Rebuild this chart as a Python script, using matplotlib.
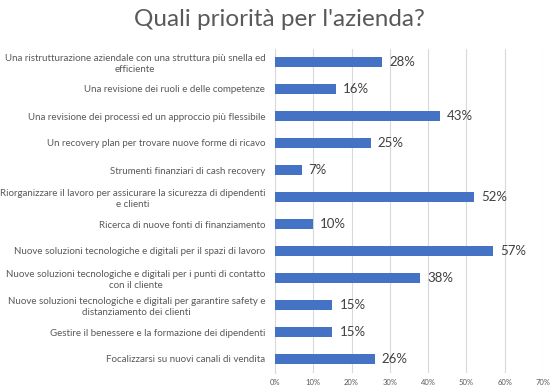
import matplotlib
matplotlib.use("Agg")
import matplotlib.pyplot as plt

categories = [
    "Una ristrutturazione aziendale con una struttura più snella ed\nefficiente",
    "Una revisione dei ruoli e delle competenze",
    "Una revisione dei processi ed un approccio più flessibile",
    "Un recovery plan per trovare nuove forme di ricavo",
    "Strumenti finanziari di cash recovery",
    "Riorganizzare il lavoro per assicurare la sicurezza di dipendenti\ne clienti",
    "Ricerca di nuove fonti di finanziamento",
    "Nuove soluzioni tecnologiche e digitali per il spazi di lavoro",
    "Nuove soluzioni tecnologiche e digitali per i punti di contatto\ncon il cliente",
    "Nuove soluzioni tecnologiche e digitali per garantire safety e\ndistanziamento dei clienti",
    "Gestire il benessere e la formazione dei dipendenti",
    "Focalizzarsi su nuovi canali di vendita",
]
values = [0.28, 0.16, 0.43, 0.25, 0.07, 0.52, 0.10, 0.57, 0.38, 0.15, 0.15, 0.26]
xticks = [0, 0.1, 0.2, 0.3, 0.4, 0.5, 0.6, 0.7]
xticklabels = ["0%", "10%", "20%", "30%", "40%", "50%", "60%", "70%"]
title = "Quali priorità per l'azienda?"

plt.rcParams['font.family'] = ['Lato', 'DejaVu Sans']

fig = plt.figure(figsize=(5.58, 3.91), dpi=100)
ax = fig.add_axes([275/558, 1 - 372.5/391, (543 - 275)/558, (372.5 - 48.5)/391])

y = list(range(len(categories)))
ax.barh(y, values, height=0.37, color="#4472C4", zorder=3)
ax.set_ylim(len(categories) - 0.5, -0.5)
ax.set_xlim(0, 0.7)
ax.set_yticks(y)
ax.set_yticklabels(categories, fontsize=7.0, color="#595959")
for lab in ax.get_yticklabels():
    lab.set_multialignment('center')
    lab.set_linespacing(1.3)
ax.set_xticks(xticks)
ax.set_xticklabels(xticklabels, fontsize=5.5, color="#595959")
ax.tick_params(axis='both', length=0)
ax.tick_params(axis='y', pad=7)
ax.tick_params(axis='x', pad=5)
ax.grid(axis='x', color="#D9D9D9", linewidth=0.8, zorder=0)
for s in ['top', 'right', 'bottom']:
    ax.spines[s].set_visible(False)
ax.spines['left'].set_color("#D9D9D9")
ax.spines['left'].set_linewidth(0.8)

for yi, v in zip(y, values):
    ax.annotate(f"{round(v*100)}%", (v, yi), xytext=(5, 0), textcoords='offset points',
                va='center', ha='left', fontsize=9.5, color="#404040")

fig.text(279/558, 1 - 20/391, title, ha='center', va='center', fontsize=17.5,
         color="#595959")

fig.savefig("out.png", dpi=100, facecolor="white")
